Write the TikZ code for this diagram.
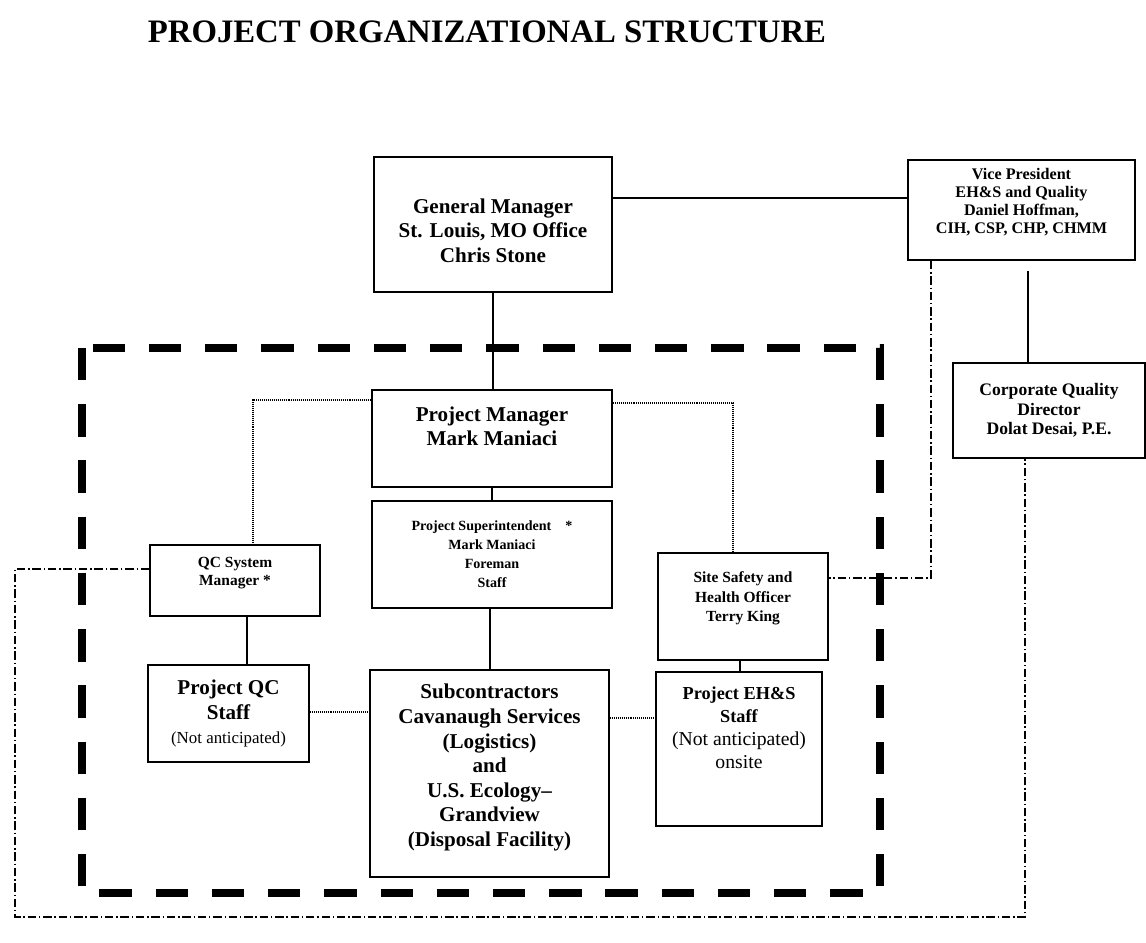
\documentclass[tikz,border=0pt]{standalone}
\usepackage{fontspec}
\setmainfont{Liberation Serif}

\begin{document}
\begin{tikzpicture}[
    orgbox/.style={draw=black,line width=1.2pt,align=center,inner sep=1pt},
    link/.style={draw=black,line width=0.9pt},
    dotlink/.style={draw=black,line width=0.8pt,dash pattern=on 0.7pt off 0.7pt},
    dashdot/.style={draw=black,line width=0.9pt,dash pattern=on 6pt off 2pt on 1pt off 2pt},
    boundary/.style={draw=black,line width=5pt,dash pattern=on 23pt off 17pt},
    large/.style={font=\fontsize{15}{17.5}\selectfont\bfseries},
    medium/.style={font=\fontsize{12.5}{14}\selectfont\bfseries},
    small/.style={font=\fontsize{11}{13}\selectfont\bfseries}
  ]
    \useasboundingbox (0,0) rectangle (28.65,-23.575);
    \node[font=\fontsize{23.3}{26}\selectfont\bfseries] (title) at (12.175,-0.8) {PROJECT ORGANIZATIONAL STRUCTURE};

    % site boundary
    \draw[boundary] (2.05,-8.7) rectangle (22.0,-22.325);

    % corporate level
    \node[orgbox,large,minimum width=5.95cm,minimum height=3.375cm] (gm) at (12.325,-5.6125)
      {\rule{0pt}{19pt}General Manager\\St. Louis, MO Office\\Chris Stone};
    \node[orgbox,font=\fontsize{11.5}{12.8}\selectfont\bfseries,minimum width=5.675cm,minimum height=2.5cm] (vp) at (25.5375,-5.25)
      {Vice President\\EH\&S and Quality\\Daniel Hoffman,\\CIH, CSP, CHP, CHMM\\\mbox{}};
    \node[orgbox,medium,minimum width=4.8cm,minimum height=2.375cm] (cqd) at (26.225,-10.2625)
      {Corporate Quality\\Director\\Dolat Desai, P.E.};

    % project level
    \node[orgbox,large,minimum width=6.0cm,minimum height=2.425cm] (pm) at (12.3,-10.9625)
      {Project Manager\\Mark Maniaci\\\mbox{}};
    \node[orgbox,font=\fontsize{10}{13.5}\selectfont\bfseries,minimum width=6.0cm,minimum height=2.675cm] (ps) at (12.3,-13.8625)
      {Project Superintendent\quad*\\Mark Maniaci\\Foreman\\Staff};
    \node[orgbox,small,minimum width=4.25cm,minimum height=1.775cm] (qcm) at (5.875,-14.5125)
      {QC System\\Manager *\\\mbox{}};
    \node[orgbox,small,font=\fontsize{11}{14}\selectfont\bfseries,minimum width=4.25cm,minimum height=2.675cm] (sso) at (18.575,-15.1625)
      {Site Safety and\\Health Officer\\Terry King\\\mbox{}};

    % staff level
    \node[orgbox,large,minimum width=4.025cm,minimum height=2.425cm] (qcstaff) at (5.7125,-17.8375)
      {Project QC\\Staff\\{\fontsize{12}{13}\selectfont\mdseries (Not anticipated)}};
    \node[orgbox,large,minimum width=5.975cm,minimum height=5.175cm] (sub) at (12.2375,-19.3375)
      {Subcontractors\\Cavanaugh Services\\(Logistics)\\and\\U.S. Ecology--\\Grandview\\(Disposal Facility)\\[-6pt]\mbox{}};
    \node[orgbox,font=\fontsize{13}{16.5}\selectfont\bfseries,minimum width=4.15cm,minimum height=3.85cm] (ehs) at (18.475,-18.725)
      {Project EH\&S\\Staff\\{\fontsize{14}{16.5}\selectfont\mdseries (Not anticipated)}\\{\fontsize{14}{16.5}\selectfont\mdseries onsite}\\[14pt]\mbox{}};

    % reporting lines
    \draw[link] (gm.east |- 0,-4.95) -- (vp.west |- 0,-4.95);
    \draw[link,shorten <=0.25cm] (vp.south -| 25.7,0) -- (cqd.north -| 25.7,0);
    \draw[link] (gm.south) -- (gm.south |- pm.north);
    \draw[link] (pm.south) -- (pm.south |- ps.north);
    \draw[link] (ps.south -| 12.25,0) -- (sub.north -| 12.25,0);
    \draw[link] (qcm.south -| 6.175,0) -- (qcstaff.north -| 6.175,0);
    \draw[link] (sso.south -| 18.5,0) -- (ehs.north -| 18.5,0);

    % coordination lines
    \draw[dotlink] (pm.west |- 0,-10.0) -| (qcm.north -| 6.325,0);
    \draw[dotlink] (pm.east |- 0,-10.075) -| (sso.north -| 18.325,0);
    \draw[dotlink] (qcstaff.east |- 0,-17.8) -- (sub.west |- 0,-17.8);
    \draw[dotlink] (sub.east |- 0,-17.95) -- (ehs.west |- 0,-17.95);

    % corporate oversight
    \draw[dashdot] (vp.south -| 23.275,0) |- (sso.east |- 0,-14.45);
    \draw[dashdot] (qcm.west |- 0,-14.225) -- (0.375,-14.225) -- (0.375,-22.925)
      -- (25.625,-22.925) -- (cqd.south -| 25.625,0);
  \end{tikzpicture}
\end{document}
